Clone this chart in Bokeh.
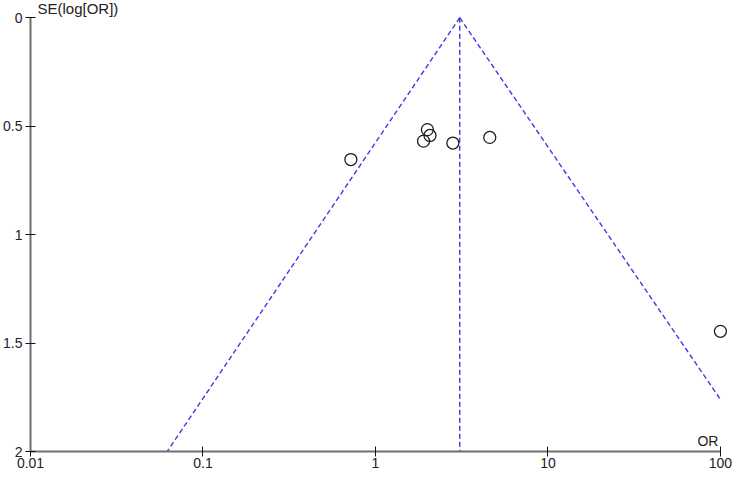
from bokeh.plotting import figure
from bokeh.models import Range1d, FixedTicker, NumeralTickFormatter, Label
from bokeh.embed import file_html
from bokeh.resources import INLINE

# study estimates
odds_ratio = [0.72, 2.00, 2.07, 1.90, 2.81, 4.60, 100.0]
se_log_or = [0.654, 0.516, 0.543, 0.569, 0.578, 0.552, 1.446]

# pooled estimate and 95% funnel limits
pooled_or = [3.08, 3.08]
pooled_se = [0.0, 2.0]
funnel_left_or = [3.08, 0.062]
funnel_left_se = [0.0, 2.0]
funnel_right_or = [3.08, 100.0]
funnel_right_se = [0.0, 1.76]

x_ticks = [0.01, 0.1, 1, 10, 100]
y_ticks = [0, 0.5, 1, 1.5, 2]

FONT = "Liberation Sans"
BLUE = "#3c3ce6"

# ranges run a little past the axes so the edge marks and the label are not clipped
p = figure(width=733, height=471, x_axis_type="log",
           x_range=Range1d(0.01, 109.9), y_range=Range1d(2, -0.07),
           output_backend="svg", toolbar_location=None,
           min_border_left=22, min_border_right=6,
           min_border_top=2, min_border_bottom=20)
p.outline_line_color = None
p.xgrid.grid_line_color = None
p.ygrid.grid_line_color = None
p.background_fill_color = "white"
p.border_fill_color = "white"

#funnel
p.line(funnel_left_or, funnel_left_se, line_color=BLUE, line_width=1.4, line_dash="5 3")
p.line(funnel_right_or, funnel_right_se, line_color=BLUE, line_width=1.4, line_dash="5 3")
p.line(pooled_or, pooled_se, line_color=BLUE, line_width=1.4, line_dash="5 3")

#studies
p.scatter(odds_ratio, se_log_or, marker="circle", size=12, fill_color=None,
          line_color="#1e1e1e", line_width=1.3)

#axes
p.xaxis.bounds = (0.01, 100)
p.yaxis.bounds = (0, 2)
p.xaxis.ticker = FixedTicker(ticks=x_ticks)
p.xaxis.formatter = NumeralTickFormatter(format="0.[00]")
p.yaxis.ticker = FixedTicker(ticks=y_ticks)
p.yaxis.formatter = NumeralTickFormatter(format="0.[0]")
p.axis.axis_line_color = "#6e6e6e"
p.axis.axis_line_width = 2
p.axis.major_tick_line_color = "#111111"
p.axis.major_tick_line_width = 1
p.axis.major_tick_in = 5
p.axis.major_tick_out = 5
p.axis.minor_tick_line_color = None
p.axis.major_label_text_font = FONT
p.axis.major_label_text_font_size = "14px"
p.axis.major_label_text_color = "#222222"
p.xaxis.major_label_standoff = 1
p.yaxis.major_label_standoff = 3

p.add_layout(Label(x=0.01, y=0, text="SE(log[OR])", x_offset=7, y_offset=1,
                   text_baseline="bottom", text_font=FONT, text_font_size="15px",
                   text_color="#222222"))
p.add_layout(Label(x=100, y=2, text="OR", x_offset=-2, y_offset=3,
                   text_align="right", text_baseline="bottom", text_font=FONT,
                   text_font_size="14px", text_color="#222222"))

open("out.html", "w").write(file_html(p, INLINE))
